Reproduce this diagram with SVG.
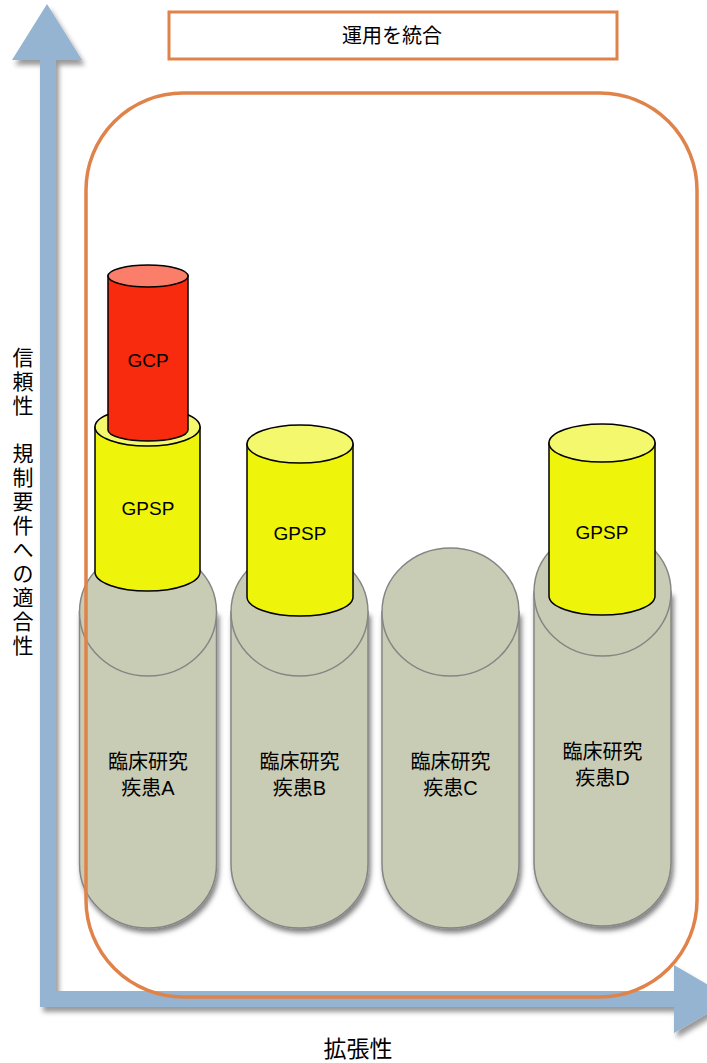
<svg xmlns="http://www.w3.org/2000/svg" width="707" height="1063" viewBox="0 0 707 1063">
<defs>
<filter id="sh" x="-20%" y="-10%" width="140%" height="130%">
<feDropShadow dx="2" dy="4" stdDeviation="2.5" flood-color="#000" flood-opacity="0.5"/>
</filter>
<filter id="ash" x="-10%" y="-10%" width="130%" height="130%">
<feDropShadow dx="3" dy="5" stdDeviation="2.5" flood-color="#000" flood-opacity="0.4"/>
</filter>
</defs>
<style>
.t{font-family:"Liberation Sans","Noto Sans CJK JP",sans-serif;fill:#000;text-anchor:middle}
.gray{fill:#c9ccb4;stroke:#858585;stroke-width:1.5}
.yb{fill:#eef50a;stroke:#000;stroke-width:1.5}
.yt{fill:#f4f86c;stroke:#000;stroke-width:1.5}
.rb{fill:#f92b0e;stroke:#000;stroke-width:1.5}
.rt{fill:#fb7e6a;stroke:#000;stroke-width:1.5}
.org{fill:none;stroke:#e0834a;stroke-width:3.5}
</style>
<g id="connectors">
<path id="axes" filter="url(#ash)" fill="#95b4d2" d="M47,4 L82,60 L56,60 L56,991 L674,991 L674,965 L732,999 L674,1033 L674,1007 L40,1007 L40,60 L12,60 Z"/>
</g>
<g id="axis-labels">
<text class="t" font-size="23" x="358" y="1057">拡張性</text>
<text class="t" font-size="21">
<tspan x="23" y="365">信</tspan><tspan x="23" dy="24">頼</tspan><tspan x="23" dy="24">性</tspan><tspan x="23" dy="48">規</tspan><tspan x="23" dy="24">制</tspan><tspan x="23" dy="24">要</tspan><tspan x="23" dy="24">件</tspan><tspan x="23" dy="24">へ</tspan><tspan x="23" dy="24">の</tspan><tspan x="23" dy="24">適</tspan><tspan x="23" dy="24">合</tspan><tspan x="23" dy="24">性</tspan>
</text>
</g>
<g id="node-unify">
<rect x="169" y="12" width="448" height="47" fill="#fff" stroke="#e0834a" stroke-width="3"/>
<text class="t" font-size="20" x="392" y="43">運用を統合</text>
</g>
<g id="node-diseaseA">
<path class="gray" filter="url(#sh)" d="M79.5,612 L79.5,864 A68.5,64 0 0 0 216.5,864 L216.5,612 Z"/>
<ellipse class="gray" cx="148" cy="612" rx="68.5" ry="64"/>
<text class="t" font-size="20"><tspan x="148" y="769">臨床研究</tspan><tspan x="148" y="795">疾患A</tspan></text>
</g>
<g id="node-diseaseB">
<path class="gray" filter="url(#sh)" d="M231,612 L231,864 A68.5,64 0 0 0 368,864 L368,612 Z"/>
<ellipse class="gray" cx="299.5" cy="612" rx="68.5" ry="64"/>
<text class="t" font-size="20"><tspan x="299.5" y="769">臨床研究</tspan><tspan x="299.5" y="795">疾患B</tspan></text>
</g>
<g id="node-diseaseC">
<path class="gray" filter="url(#sh)" d="M382,612 L382,864 A68.5,64 0 0 0 519,864 L519,612 Z"/>
<ellipse class="gray" cx="450.5" cy="612" rx="68.5" ry="64"/>
<text class="t" font-size="20"><tspan x="450.5" y="769">臨床研究</tspan><tspan x="450.5" y="795">疾患C</tspan></text>
</g>
<g id="node-diseaseD">
<path class="gray" filter="url(#sh)" d="M534,592 L534,862 A68.5,64 0 0 0 671,862 L671,592 Z"/>
<ellipse class="gray" cx="602.5" cy="592" rx="68.5" ry="64"/>
<text class="t" font-size="20"><tspan x="602.5" y="759">臨床研究</tspan><tspan x="602.5" y="785">疾患D</tspan></text>
</g>
<g id="node-gpspA">
<path class="yb" d="M95,427 L95,572 A52.5,19 0 0 0 200,572 L200,427 Z"/>
<ellipse class="yt" cx="147.5" cy="427" rx="52.5" ry="19"/>
<text class="t" font-size="19" x="148" y="515">GPSP</text>
</g>
<g id="node-gcpA">
<path class="rb" d="M108,276 L108,430 A40,11 0 0 0 188,430 L188,276 Z"/>
<ellipse class="rt" cx="148" cy="276" rx="40" ry="11"/>
<text class="t" font-size="19" x="148" y="367">GCP</text>
</g>
<g id="node-gpspB">
<path class="yb" d="M247,444 L247,597 A53,19 0 0 0 353,597 L353,444 Z"/>
<ellipse class="yt" cx="300" cy="444" rx="53" ry="19"/>
<text class="t" font-size="19" x="300" y="540">GPSP</text>
</g>
<g id="node-gpspD">
<path class="yb" d="M549,443 L549,596 A53,19 0 0 0 655,596 L655,443 Z"/>
<ellipse class="yt" cx="602" cy="443" rx="53" ry="19"/>
<text class="t" font-size="19" x="602" y="539">GPSP</text>
</g>
<g id="node-integration">
<rect class="org" x="86" y="93" width="611" height="904" rx="97" ry="97"/>
</g>
</svg>
